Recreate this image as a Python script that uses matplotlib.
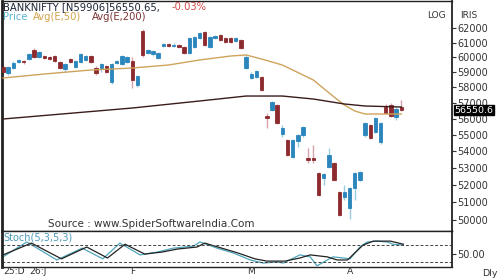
import matplotlib
matplotlib.use("Agg")
import matplotlib.pyplot as plt
import matplotlib.transforms as mtransforms
from matplotlib.ticker import FixedLocator, FixedFormatter, NullLocator

# ---------------- data ----------------
opens = [59348, 58951, 59281, 59682, 59749, 59882, 60490, 60017, 60084, 60017,
         60084, 59682, 59215, 59882, 59348, 59682, 59815, 60084, 59281, 59281,
         59415, 58358, 59615, 59548, 59682, 59749, 58162, 61793, 60287, 60220,
         59949, 60762, 60899, 60762, 60831, 60694, 60287, 60694, 61309, 61724,
         60694, 61309, 61516, 61309, 61309, 61104, 61172, 59281, 58620, 58686,
         58686, 56176, 56555, 56873, 55053, 54684, 53650, 54622, 54991, 53590,
         53590, 52698, 52402, 53053, 53292, 51586, 51297, 50668, 51817, 52285,
         54991, 55612, 55177, 54561, 56745, 56873, 56112, 56760]
highs = [59481, 59415, 59749, 59882, 59815, 60287, 60625, 60422, 60152, 60084,
         60152, 59749, 59615, 59949, 59815, 60287, 60152, 60152, 59415, 59615,
         59481, 59615, 59815, 60152, 60084, 60017, 58818, 61931, 60557, 60490,
         60355, 60967, 60967, 60967, 60899, 60762, 61378, 61447, 61724, 61793,
         61447, 61516, 61585, 61378, 61378, 61378, 61241, 60152, 59017, 59149,
         58752, 56365, 57128, 56937, 55612, 54745, 54745, 55053, 55549, 54194,
         54378, 52757, 52698, 54194, 53351, 51644, 51993, 51876, 52757, 52816,
         55799, 55674, 56112, 55799, 56937, 57000, 56745, 57192]
lows = [58884, 58818, 59215, 59615, 59548, 59815, 59949, 59949, 59882, 59815,
        59682, 59215, 59017, 59615, 59281, 59615, 59749, 59615, 58818, 59017,
        58951, 58228, 59548, 59481, 59615, 57966, 58031, 60017, 60220, 60084,
        59882, 60694, 60694, 60694, 60625, 60220, 60220, 60625, 61241, 60762,
        60625, 61241, 61104, 60967, 60967, 61036, 60557, 59215, 58555, 58620,
        57772, 55424, 56491, 55674, 54868, 53711, 53590, 54255, 54868, 53292,
        53292, 51355, 51993, 52993, 52227, 50216, 51125, 50047, 51125, 52227,
        54868, 54745, 55115, 54439, 56302, 56112, 55924, 56520]
closes = [59017, 59348, 59615, 59815, 59682, 60220, 60017, 60355, 59949, 59882,
          59749, 59281, 59548, 59682, 59749, 60220, 60084, 59682, 58951, 59548,
          59017, 59548, 59749, 60084, 60017, 58489, 58752, 60152, 60490, 60422,
          60287, 60899, 60762, 60831, 60694, 60287, 61309, 61378, 61655, 60831,
          61378, 61447, 61172, 61036, 61036, 61309, 60625, 60017, 58884, 59083,
          57837, 56049, 57064, 55737, 55424, 53771, 54684, 54991, 55487, 53471,
          53471, 51412, 52639, 53771, 52285, 50272, 51586, 51817, 52698, 52757,
          55737, 54806, 56049, 55737, 56365, 56176, 56600, 56551]

ema50_idx = [0, 8, 17, 25, 32, 38, 44, 47, 50, 54, 60, 64, 66, 68, 70, 74, 77]
ema50 = [58620, 58884, 59149, 59281, 59481, 59816, 60084, 60152, 59882, 59481,
         58489, 57384, 56872, 56491, 56301, 56301, 56301]
ema200_idx = [0, 25, 38, 47, 54, 60, 66, 70, 77]
ema200 = [55987, 56681, 57129, 57448, 57448, 57256, 56937, 56809, 56745]

stk_idx = [0, 4.6, 10.4, 15.3, 19.3, 22.6, 26.5, 29.8, 32.9, 36.8, 38.1, 41.4,
           44.5, 47.8, 50.3, 53, 54.2, 57.4, 59.4, 60.7, 62.7, 63.8, 65.8, 67.1,
           69, 70.4, 72.3, 74.3, 75.4, 77.4]
stk_k = [38, 91, 27, 69, 31, 87, 45, 55, 69, 76, 91, 69, 52, 27, 16, 20, 16, 45,
         38, 6, 27, 38, 34, 31, 73, 91, 94, 91, 83, 80]
std_idx = [0, 5.5, 11.3, 16.2, 20.2, 23.6, 27.4, 30.7, 33.8, 37.5, 39, 42.3, 45.4,
           48.7, 51, 54.5, 57.4, 59.4, 62.7, 64.6, 66.6, 69.6, 71.6, 74.9, 77.4]
std_d = [45, 87, 31, 73, 34, 83, 48, 55, 66, 73, 87, 69, 52, 31, 23, 23, 34, 45,
         38, 27, 27, 80, 94, 94, 83]

price_ticks = [50000, 51000, 52000, 53000, 54000, 55000, 56000, 57000, 58000,
               59000, 60000, 61000, 62000]
date_pos = [0, 5, 25, 48, 67]
date_labels = ["25:D", "26:J", "F", "M", "A"]
last_price = 56550.6

# ---------------- styling ----------------
RED_B, RED_W = "#8c2a2e", "#d8a2ab"
BLU_B, BLU_W = "#2a86bc", "#9ccbe4"
TXT = "#333333"
W, H = 500, 280

fig = plt.figure(figsize=(5, 2.8), dpi=100)
fig.patch.set_facecolor("white")

def fx(x):
    return x / W

def fy(y):
    return 1 - y / H

ax = fig.add_axes([fx(2), fy(231), fx(452) - fx(2), fy(1) - fy(231)])
ax2 = fig.add_axes([fx(2), fy(267), fx(452) - fx(2), fy(231) - fy(267)])

n = len(opens)
xs = list(range(n))
xlim = (-0.19, 86.8)

# candles
for i in xs:
    o, h, l, c = opens[i], highs[i], lows[i], closes[i]
    up = c >= o
    bc = BLU_B if up else RED_B
    wc = BLU_W if up else RED_W
    ax.vlines(i, l, h, color=wc, lw=1.0, zorder=2)
    lo, hi = min(o, c), max(o, c)
    ax.bar(i, hi - lo, bottom=lo, width=0.66, color=bc, edgecolor=bc,
           linewidth=0.6, zorder=3)

ax.plot(ema50_idx, ema50, color="#cfa35c", lw=1.0, zorder=4)
ax.plot(ema200_idx, ema200, color="#3a1c1c", lw=1.0, zorder=4)

ax.set_yscale("log")
ax.set_ylim(49381, 63906)
ax.set_xlim(*xlim)
ax.yaxis.set_major_locator(FixedLocator(price_ticks))
ax.yaxis.set_major_formatter(FixedFormatter([str(t) for t in price_ticks]))
ax.yaxis.set_minor_locator(NullLocator())
ax.yaxis.tick_right()
ax.tick_params(axis="y", which="major", direction="out", length=3, width=0.8,
               colors=TXT, labelsize=7, pad=1)
ax.set_xticks([])
for s in ax.spines.values():
    s.set_color("#222222")
    s.set_linewidth(1.0)
ax.spines["left"].set_linewidth(2.0)
ax.spines["right"].set_linewidth(1.3)

trans = mtransforms.blended_transform_factory(ax.transAxes, ax.transData)
ax.text(1.005, last_price, f"{last_price:.1f}", transform=trans, color="white",
        fontsize=6.8, va="center", ha="left", zorder=10, clip_on=False,
        bbox=dict(facecolor="black", edgecolor="black", pad=0.3))

# stochastic panel
ax2.plot(stk_idx, stk_k, color="#4fa6bb", lw=0.9)
ax2.plot(std_idx, std_d, color="#222222", lw=0.9)
ax2.axhline(80, color="#444444", lw=0.7, dashes=(3, 2))
ax2.axhline(20, color="#444444", lw=0.7, dashes=(3, 2))
ax2.set_ylim(2, 130)
ax2.set_xlim(*xlim)
ax2.yaxis.tick_right()
ax2.set_yticks([50])
ax2.set_yticklabels(["50.00"])
ax2.tick_params(axis="y", direction="out", length=3, width=0.8, colors=TXT,
                labelsize=7, pad=1)
ax2.set_xticks([])
for s in ax2.spines.values():
    s.set_color("#222222")
    s.set_linewidth(1.0)
ax2.spines["left"].set_linewidth(2.0)
ax2.spines["right"].set_linewidth(1.3)

tx = mtransforms.blended_transform_factory(ax2.transData, fig.transFigure)
for p, lab in zip(date_pos, date_labels):
    ha = "left" if p < 10 else "center"
    ax2.text(p, fy(272), lab, transform=tx, fontsize=6.6, color=TXT,
             ha=ha, va="center", clip_on=False)

# header texts
HF = 7.2
fig.text(fx(3), fy(7), "BANKNIFTY [N59906]56550.65,", fontsize=HF,
         color="#1c2433", ha="left", va="center")
fig.text(fx(172), fy(7), "-0.03%", fontsize=HF, color="#d04848",
         ha="left", va="center")
fig.text(fx(3), fy(17), "Price", fontsize=HF, color="#5db4d6",
         ha="left", va="center")
fig.text(fx(33), fy(17), "Avg(E,50)", fontsize=HF, color="#d2a24e",
         ha="left", va="center")
fig.text(fx(92), fy(17), "Avg(E,200)", fontsize=HF, color="#7a3434",
         ha="left", va="center")
fig.text(fx(427), fy(16), "LOG", fontsize=6.5, color=TXT, ha="left", va="center")
fig.text(fx(460), fy(16), "IRIS", fontsize=6.5, color=TXT, ha="left", va="center")
fig.text(fx(151), fy(224), "Source : www.SpiderSoftwareIndia.Com", fontsize=7.5,
         color=TXT, ha="center", va="center")
fig.text(fx(3), fy(237), "Stoch(5,3,5,3)", fontsize=7, color="#4a9ab8",
         ha="left", va="center")
fig.text(fx(482), fy(273), "Dly", fontsize=6.8, color=TXT, ha="left", va="center")

fig.savefig("out.png", dpi=100, facecolor="white")
